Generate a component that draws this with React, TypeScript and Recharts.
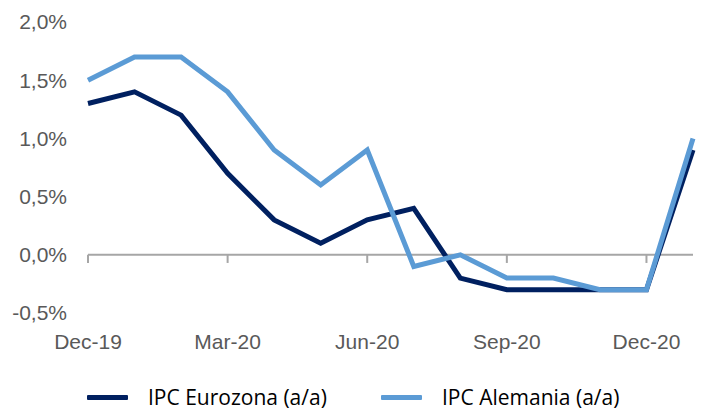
import React from 'react';
import { LineChart, Line, XAxis, YAxis, ReferenceLine } from 'recharts';

const months = ['Dec-19', 'Jan-20', 'Feb-20', 'Mar-20', 'Apr-20', 'May-20', 'Jun-20', 'Jul-20', 'Aug-20', 'Sep-20', 'Oct-20', 'Nov-20', 'Dec-20', 'Jan-21'];
const eurozona = [1.3, 1.4, 1.2, 0.7, 0.3, 0.1, 0.3, 0.4, -0.2, -0.3, -0.3, -0.3, -0.3, 0.9];
const alemania = [1.5, 1.7, 1.7, 1.4, 0.9, 0.6, 0.9, -0.1, 0.0, -0.2, -0.2, -0.3, -0.3, 1.0];
const xTicks = ['Dec-19', 'Mar-20', 'Jun-20', 'Sep-20', 'Dec-20'];
const yTicks = [-0.5, 0, 0.5, 1, 1.5, 2];
const seriesNames = ['IPC Eurozona (a/a)', 'IPC Alemania (a/a)'];

const DARK = '#002060';
const LIGHT = '#5B9BD5';
const AXIS = '#A6A6A6';
const TEXT = '#595959';
const AXIS_FONT = '"Liberation Sans", Arial, sans-serif';
const LEGEND_FONT = '"Open Sans", sans-serif';

const data = months.map((m, i) => ({ m, ez: eurozona[i], de: alemania[i] }));

const fmt = (v: number) => v.toFixed(1).replace('.', ',') + '%';

export default function App() {
  return (
    <div style={{ position: 'absolute', left: 0, top: 0, width: 702, height: 412, background: '#fff' }}>
      <LineChart width={702} height={412} data={data} margin={{ top: 22, right: 9, bottom: 59, left: 0 }}>
        <XAxis
          dataKey="m"
          ticks={xTicks}
          interval={0}
          axisLine={false}
          tickLine={false}
          tickMargin={15}
          height={40}
          tick={{ fill: TEXT, fontSize: 21, fontFamily: AXIS_FONT }}
        />
        <YAxis
          domain={[-0.5, 2]}
          ticks={yTicks}
          width={88}
          axisLine={false}
          tickLine={false}
          tickMargin={15}
          tickFormatter={fmt}
          tick={{ fill: TEXT, fontSize: 21, fontFamily: AXIS_FONT }}
        />
        <ReferenceLine y={0} stroke={AXIS} strokeWidth={2} />
        {xTicks.map((t) => (
          <ReferenceLine
            key={t}
            segment={[{ x: t, y: 0 }, { x: t, y: -0.07 }]}
            stroke={AXIS}
            strokeWidth={2}
          />
        ))}
        <Line type="linear" dataKey="ez" stroke={DARK} strokeWidth={5} dot={false} isAnimationActive={false} />
        <Line type="linear" dataKey="de" stroke={LIGHT} strokeWidth={5} dot={false} isAnimationActive={false} />
      </LineChart>
      <div style={{ position: 'absolute', left: 0, top: 383, width: 702, height: 28, fontFamily: LEGEND_FONT, fontSize: 21, color: '#000' }}>
        {[DARK, LIGHT].map((c, i) => (
          <React.Fragment key={i}>
            <div style={{ position: 'absolute', left: i === 0 ? 87 : 381, top: 12, width: 41, height: 5, background: c, borderRadius: 1 }} />
            <div style={{ position: 'absolute', left: i === 0 ? 148 : 442, top: 0, lineHeight: '28px', whiteSpace: 'nowrap' }}>{seriesNames[i]}</div>
          </React.Fragment>
        ))}
      </div>
    </div>
  );
}
